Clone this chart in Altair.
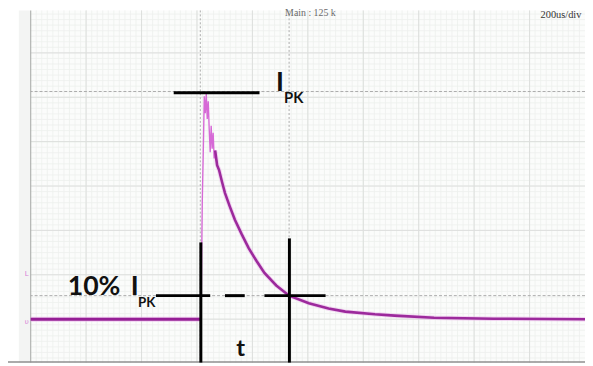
import altair as alt
import pandas as pd

# ---------------- data (time in microseconds, current in A; 200 us/div, 10 A/div) ----------------
base_t = [0, 300, 612, 613.9]
base_a = [0, 0, 0, 0]

spike_t = [613.9, 615.7, 617.4, 619.2, 622.8, 626.3, 629.9, 633.5, 637.0, 640.6, 644.1,
           647.7, 651.2, 654.8, 658.4, 661.9, 665.5, 672.6, 679.7]
spike_a = [0, 4.7, 16.9, 26.9, 38.0, 50.2, 46.4, 50.7, 45.1, 49.1, 42.9,
           37.6, 43.6, 38.4, 42.0, 36.2, 38.0, 34.7, 33.6]

decay_t = [665.5, 672.6, 679.7, 690.4, 701.1, 718.9, 736.7, 761.6, 786.5, 815.0, 843.4,
           886.1, 932.4, 1003.6, 1074.7, 1135.2, 1242.0, 1313.2, 1455.5, 1669.0, 2000]
decay_a = [38.0, 34.7, 33.6, 30.9, 28.4, 25.3, 22.4, 19.1, 16.0, 13.1, 10.4,
           7.6, 5.3, 3.6, 2.4, 1.7, 1.1, 0.8, 0.3, 0.1, 0]

cursor_t = [612, 932.4]      # vertical cursors
cursor_a = [51.3, 5.3]       # horizontal cursors (IPK, 10% IPK)

ipk_level = 51.0
ipk_bar_t = [516, 825.6]
pct_level = 5.3
pct_seg_t1 = [452, 701, 843.4]
pct_seg_t2 = [647.7, 772.2, 1064]
marker_t = [613.9, 933.5]
marker_top = [17.3, 18.2]
y_bottom = -9.78

label_text = ["I", "10%", "I"]
label_t = [885.0, 133.5, 361.0]
label_a = [51.33, 5.4, 5.4]
sub_t = [914.0, 387.0]
sub_a = [48.67, 2.82]

x_min, x_max = 0, 2000
y_min, y_max = -9.78, 69.56
grid_minor_x = [20 * k for k in range(1, 100)]
grid_major_x = [200 * k for k in range(1, 10)]
grid_minor_y = [-10 + 1.25 * k for k in range(1, 64) if -10 + 1.25 * k < y_max]
grid_major_y = [10 * k for k in range(0, 7)]

X = alt.Scale(domain=[x_min, x_max], nice=False, zero=False)
Y = alt.Scale(domain=[y_min, y_max], nice=False, zero=False)


def xq(f):
    return alt.X(f, type="quantitative", scale=X, axis=None)


def yq(f):
    return alt.Y(f, type="quantitative", scale=Y, axis=None)


one = pd.DataFrame({"d": [0]})

strip = alt.Chart(one).mark_rect(color="#f3f4f3").encode(
    x=alt.value(-12), x2=alt.value(0), y=alt.value(0), y2=alt.value(357))

gminx = alt.Chart(pd.DataFrame({"g": grid_minor_x})).mark_rule(
    color="#edf0ed", strokeWidth=0.8).encode(x=xq("g"))
gminy = alt.Chart(pd.DataFrame({"g": grid_minor_y})).mark_rule(
    color="#edf0ed", strokeWidth=0.8).encode(y=yq("g"))
gmajx = alt.Chart(pd.DataFrame({"g": grid_major_x})).mark_rule(
    color="#dcdedc", strokeWidth=1).encode(x=xq("g"))
gmajy = alt.Chart(pd.DataFrame({"g": grid_major_y})).mark_rule(
    color="#dcdedc", strokeWidth=1).encode(y=yq("g"))

frame_left = alt.Chart(one).mark_rule(color="#b0b2b0", strokeWidth=1.2).encode(
    x=alt.value(0), y=alt.value(0), y2=alt.value(357))
frame_bottom = alt.Chart(one).mark_rule(color="#8f8f8f", strokeWidth=1.5).encode(
    x=alt.value(-23), x2=alt.value(562), y=alt.value(356.5))

curv = alt.Chart(pd.DataFrame({"t": cursor_t})).mark_rule(
    color="#ababab", strokeWidth=1, strokeDash=[2, 2]).encode(x=xq("t"))
curh = alt.Chart(pd.DataFrame({"a": cursor_a})).mark_rule(
    color="#ababab", strokeWidth=1, strokeDash=[3, 2]).encode(y=yq("a"))

base_df = pd.DataFrame({"t": base_t, "a": base_a})
decay_df = pd.DataFrame({"t": decay_t, "a": decay_a})

halo_base = alt.Chart(base_df).mark_line(
    color="#eab0ea", strokeWidth=5, opacity=0.6).encode(x=xq("t"), y=yq("a"))
halo_decay = alt.Chart(decay_df).mark_line(
    color="#eab0ea", strokeWidth=4.5, opacity=0.5).encode(x=xq("t"), y=yq("a"))
base = alt.Chart(base_df).mark_line(
    color="#951f95", strokeWidth=3).encode(x=xq("t"), y=yq("a"))
spike = alt.Chart(pd.DataFrame({"t": spike_t, "a": spike_a})).mark_line(
    color="#d66ad6", strokeWidth=1.4).encode(x=xq("t"), y=yq("a"))
decay = alt.Chart(decay_df).mark_line(
    color="#9c2a9c", strokeWidth=2.6).encode(x=xq("t"), y=yq("a"))

ipk_bar = alt.Chart(pd.DataFrame({"t1": [ipk_bar_t[0]], "t2": [ipk_bar_t[1]], "a": [ipk_level]})).mark_rule(
    color="#000000", strokeWidth=3).encode(x=xq("t1"), x2="t2", y=yq("a"))
pct = alt.Chart(pd.DataFrame({"t1": pct_seg_t1, "t2": pct_seg_t2, "a": [pct_level] * 3})).mark_rule(
    color="#000000", strokeWidth=3).encode(x=xq("t1"), x2="t2", y=yq("a"))
markers = alt.Chart(pd.DataFrame({"t": marker_t, "a1": marker_top, "a2": [y_bottom] * 2})).mark_rule(
    color="#000000", strokeWidth=3).encode(x=xq("t"), y=yq("a1"), y2="a2")

txt_big = alt.Chart(pd.DataFrame({"label": label_text, "t": label_t, "a": label_a})).mark_text(
    font="Lato", fontWeight="bold", color="#111111", baseline="alphabetic", align="left", fontSize=27).encode(
    x=xq("t"), y=yq("a"), text="label:N")
txt_t = alt.Chart(pd.DataFrame({"label": ["t"], "t": [758], "a": [-8.2]})).mark_text(
    font="Lato", fontWeight="bold", color="#111111", baseline="alphabetic", align="center", fontSize=24).encode(
    x=xq("t"), y=yq("a"), text="label:N")
txt_sub1 = alt.Chart(pd.DataFrame({"label": ["PK"], "t": [sub_t[0]], "a": [sub_a[0]]})).mark_text(
    font="Lato", fontWeight="bold", color="#111111", baseline="alphabetic", align="left", fontSize=15).encode(
    x=xq("t"), y=yq("a"), text="label:N")
txt_sub2 = alt.Chart(pd.DataFrame({"label": ["PK"], "t": [sub_t[1]], "a": [sub_a[1]]})).mark_text(
    font="Lato", fontWeight="bold", color="#111111", baseline="alphabetic", align="left", fontSize=13.5).encode(
    x=xq("t"), y=yq("a"), text="label:N")

txt_info = alt.Chart(pd.DataFrame({"label": ["Main : 125 k"], "t": [918], "a": [69.0]})).mark_text(
    font="Liberation Serif", fontSize=10, color="#6a6a6a", baseline="middle", align="left").encode(
    x=xq("t"), y=yq("a"), text="label:N")
txt_div = alt.Chart(pd.DataFrame({"label": ["200us/div"], "t": [1987], "a": [68.6]})).mark_text(
    font="Liberation Serif", fontSize=10.5, color="#333333", baseline="middle", align="right").encode(
    x=xq("t"), y=yq("a"), text="label:N")

txt_lev = alt.Chart(pd.DataFrame({"label": ["L", "υ"], "t": [-14.2, -14.2], "a": [10.2, -0.6]})).mark_text(
    font="DejaVu Sans", fontSize=7, color="#d77fd7", baseline="middle", align="center").encode(
    x=xq("t"), y=yq("a"), text="label:N")

chart = alt.layer(
    strip, gminx, gminy, gmajx, gmajy, frame_left, frame_bottom, curv, curh,
    halo_base, halo_decay, base, spike, decay,
    ipk_bar, pct, markers, txt_big, txt_t, txt_sub1, txt_sub2, txt_info, txt_div, txt_lev,
).properties(
    width=562, height=357,
    autosize=alt.AutoSizeParams(type="none"),
    padding={"left": 23, "top": 0, "right": 0, "bottom": 1},
).configure_view(fill="#fbfcfb", strokeWidth=0)

chart.save("out.html", embed_options={"renderer": "svg", "actions": False})
